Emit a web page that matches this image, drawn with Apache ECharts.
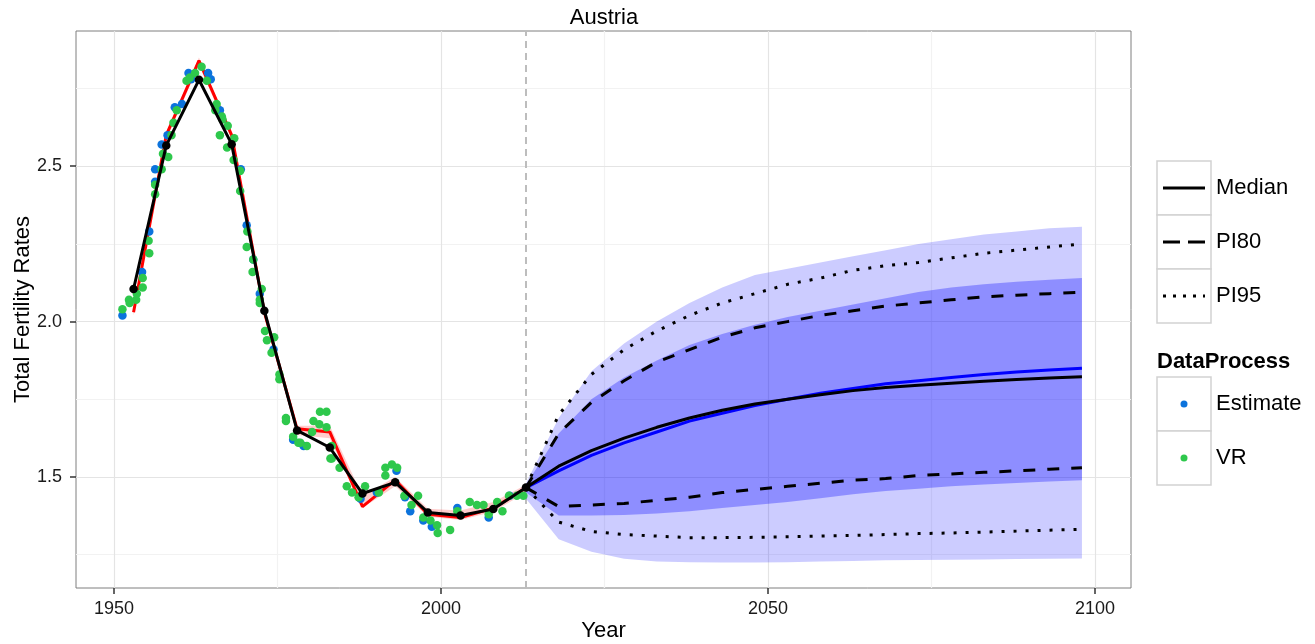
<!DOCTYPE html>
<html>
<head>
<meta charset="utf-8">
<title>Austria – Total Fertility Rates</title>
<script src="https://cdn.jsdelivr.net/npm/echarts@6/dist/echarts.min.js"></script>
<style>
  html, body { margin: 0; padding: 0; background: #ffffff; }
  #chart { width: 1315px; height: 644px; }
</style>
</head>
<body>
<div id="chart"></div>
<script>
// ---- Observed period (five-year periods) ----
const obsYears = [1953, 1958, 1963, 1968, 1973, 1978, 1983, 1988, 1993, 1998, 2003, 2008, 2013];
const obsMedian = [2.105, 2.567, 2.778, 2.571, 2.035, 1.650, 1.595, 1.447, 1.483, 1.386, 1.376, 1.397, 1.466];
const obsRed = [2.030, 2.600, 2.840, 2.600, 2.030, 1.655, 1.645, 1.405, 1.490, 1.380, 1.370, 1.400, 1.465];
const obsRedLow = [2.020, 2.585, 2.825, 2.585, 2.020, 1.635, 1.625, 1.400, 1.470, 1.372, 1.362, 1.388, 1.450];
const obsRedHigh = [2.045, 2.610, 2.850, 2.610, 2.045, 1.665, 1.665, 1.440, 1.500, 1.398, 1.392, 1.420, 1.475];

// ---- Data points by source: [year, TFR] ----
const estimatePts = [
  [1951.3, 2.02], [1954.3, 2.16], [1955.4, 2.29], [1956.3, 2.49], [1956.3, 2.45], [1957.3, 2.57],
  [1958.2, 2.60], [1959.3, 2.69], [1960.4, 2.70], [1961.4, 2.80], [1961.8, 2.78], [1964.4, 2.80],
  [1964.8, 2.78], [1966.2, 2.68], [1969.4, 2.49], [1970.3, 2.31], [1971.3, 2.20], [1972.3, 2.09],
  [1974.4, 1.91], [1977.4, 1.62], [1979.0, 1.60], [1987.7, 1.43], [1990.2, 1.45], [1993.2, 1.52],
  [1994.5, 1.435], [1995.3, 1.39], [1997.3, 1.36], [1998.6, 1.34], [2002.5, 1.40], [2007.3, 1.37],
  [2010.5, 1.44]
];
const vrPts = [
  [1951.3, 2.04], [1952.3, 2.07], [1952.4, 2.06], [1953.4, 2.07], [1953.5, 2.09], [1954.4, 2.14],
  [1954.4, 2.11], [1955.3, 2.26], [1955.4, 2.22], [1956.3, 2.41], [1956.3, 2.44], [1957.5, 2.54],
  [1958.3, 2.53], [1957.3, 2.49], [1958.8, 2.60], [1959.1, 2.64], [1959.6, 2.68], [1961.1, 2.775],
  [1961.6, 2.785], [1962.4, 2.80], [1963.4, 2.82], [1964.2, 2.775], [1965.5, 2.68], [1965.7, 2.70],
  [1966.5, 2.66], [1966.6, 2.65], [1967.4, 2.63], [1966.2, 2.60], [1968.4, 2.59], [1967.3, 2.56],
  [1968.3, 2.52], [1969.3, 2.485], [1969.3, 2.42], [1970.4, 2.29], [1970.3, 2.24], [1971.3, 2.20],
  [1971.2, 2.16], [1972.6, 2.105], [1972.3, 2.07], [1972.3, 2.06], [1973.1, 1.97], [1973.4, 1.94],
  [1974.5, 1.95], [1974.1, 1.90], [1975.3, 1.83], [1975.3, 1.815], [1976.3, 1.69], [1976.3, 1.68],
  [1977.4, 1.63], [1978.2, 1.61], [1978.5, 1.61], [1979.5, 1.60], [1980.3, 1.645], [1980.5, 1.68],
  [1981.5, 1.71], [1982.5, 1.71], [1981.4, 1.67], [1982.5, 1.66], [1983.3, 1.60], [1983.1, 1.56],
  [1983.3, 1.56], [1984.5, 1.53], [1985.6, 1.47], [1986.4, 1.45], [1987.4, 1.435], [1988.4, 1.47],
  [1990.5, 1.45], [1991.5, 1.53], [1992.5, 1.54], [1993.3, 1.53], [1991.5, 1.505], [1994.4, 1.44],
  [1995.5, 1.41], [1996.5, 1.44], [1997.3, 1.37], [1998.4, 1.36], [1999.4, 1.345], [1999.5, 1.32],
  [2001.4, 1.33], [2002.5, 1.39], [2004.4, 1.42], [2005.5, 1.41], [2006.5, 1.41], [2007.3, 1.38],
  [2008.6, 1.42], [2009.4, 1.39], [2010.4, 1.44], [2011.6, 1.44], [2012.6, 1.44]
];

// ---- Projection (five-year steps) ----
const projYears = [2013, 2018, 2023, 2028, 2033, 2038, 2043, 2048, 2053, 2058, 2063, 2068, 2073, 2078, 2083, 2088, 2093, 2098];
const projMedian = [1.466, 1.535, 1.585, 1.625, 1.660, 1.690, 1.715, 1.735, 1.750, 1.765, 1.778, 1.788, 1.795, 1.802, 1.808, 1.814, 1.819, 1.823];
const projMean = [1.466, 1.520, 1.570, 1.610, 1.645, 1.680, 1.705, 1.730, 1.750, 1.770, 1.785, 1.800, 1.810, 1.820, 1.830, 1.838, 1.844, 1.850];
const pi80Upper = [1.466, 1.640, 1.740, 1.810, 1.870, 1.910, 1.950, 1.980, 2.000, 2.020, 2.035, 2.050, 2.060, 2.070, 2.080, 2.085, 2.090, 2.095];
const pi80Lower = [1.466, 1.405, 1.410, 1.415, 1.425, 1.435, 1.450, 1.460, 1.470, 1.480, 1.490, 1.495, 1.505, 1.510, 1.515, 1.520, 1.525, 1.530];
const pi95Upper = [1.466, 1.700, 1.830, 1.910, 1.970, 2.020, 2.060, 2.090, 2.120, 2.140, 2.165, 2.180, 2.190, 2.205, 2.220, 2.230, 2.240, 2.250];
const pi95Lower = [1.466, 1.355, 1.325, 1.315, 1.310, 1.305, 1.305, 1.306, 1.308, 1.310, 1.312, 1.315, 1.318, 1.320, 1.323, 1.326, 1.329, 1.332];
// shaded intervals
const band95Upper = [1.480, 1.690, 1.840, 1.930, 2.000, 2.060, 2.110, 2.150, 2.170, 2.190, 2.210, 2.230, 2.250, 2.265, 2.280, 2.290, 2.300, 2.305];
const band95Lower = [1.430, 1.300, 1.260, 1.237, 1.228, 1.226, 1.225, 1.225, 1.226, 1.228, 1.230, 1.232, 1.233, 1.234, 1.235, 1.236, 1.237, 1.238];
const band80Upper = [1.475, 1.640, 1.750, 1.820, 1.875, 1.925, 1.960, 1.990, 2.015, 2.035, 2.055, 2.075, 2.095, 2.110, 2.120, 2.128, 2.135, 2.140];
const band80Lower = [1.450, 1.376, 1.376, 1.378, 1.383, 1.390, 1.400, 1.410, 1.420, 1.432, 1.445, 1.455, 1.462, 1.470, 1.476, 1.481, 1.486, 1.490];

// ---- Axis ticks ----
const xTicks = [1950, 2000, 2050, 2100];
const xMinor = [1975, 2025, 2075];
const yTicks = [1.5, 2.0, 2.5];
const yMinor = [1.25, 1.75, 2.25, 2.75];
const presentYear = 2013;

const FONT = 'Liberation Sans, Arial, Helvetica, sans-serif';
const pairs = (xs, ys) => xs.map((x, i) => [x, ys[i]]);

// filled interval between two curves, projected through the axes
function bandSeries(xs, lo, hi, color, z) {
  return {
    type: 'custom', silent: true, z: z, clip: true,
    data: [[xs[0], lo[0]]],
    renderItem: function (params, api) {
      const top = xs.map((x, i) => api.coord([x, hi[i]]));
      const bottom = xs.map((x, i) => api.coord([x, lo[i]])).reverse();
      return { type: 'polygon', shape: { points: top.concat(bottom) }, style: { fill: color } };
    }
  };
}
function pathSeries(xs, ys, style, z) {
  return { type: 'line', data: pairs(xs, ys), symbol: 'none', silent: true, z: z,
    lineStyle: Object.assign({ color: '#000', width: 3, cap: 'butt' }, style) };
}

const gridLines = []
  .concat(xMinor.map(v => ({ xAxis: v, lineStyle: { color: '#f2f2f2', width: 1.2, type: 'solid' } })))
  .concat(yMinor.map(v => ({ yAxis: v, lineStyle: { color: '#f2f2f2', width: 1.2, type: 'solid' } })))
  .concat(xTicks.map(v => ({ xAxis: v, lineStyle: { color: '#e4e4e4', width: 1.2, type: 'solid' } })))
  .concat(yTicks.map(v => ({ yAxis: v, lineStyle: { color: '#e4e4e4', width: 1.2, type: 'solid' } })))
  .concat([{ xAxis: presentYear, lineStyle: { color: '#bdbdbd', width: 2, type: [7, 5] } }]);

const series = [
  { type: 'line', data: [], symbol: 'none', silent: true, z: 1,
    markLine: { silent: true, z: 1, symbol: ['none', 'none'], label: { show: false }, animation: false, data: gridLines } },
  bandSeries(projYears, band95Lower, band95Upper, 'rgba(0,0,255,0.2)', 2),
  bandSeries(projYears, band80Lower, band80Upper, 'rgba(0,0,255,0.3)', 2),
  bandSeries(obsYears, obsRedLow, obsRedHigh, 'rgba(255,0,0,0.2)', 3),
  pathSeries(obsYears, obsRed, { color: '#ff0000', width: 3 }, 3),
  { type: 'scatter', data: estimatePts, symbolSize: 8.5, silent: true, z: 4,
    itemStyle: { color: '#0c73dc', opacity: 1 } },
  { type: 'scatter', data: vrPts, symbolSize: 8.5, silent: true, z: 4,
    itemStyle: { color: '#2ec84c', opacity: 1 } },
  { type: 'line', data: pairs(obsYears, obsMedian), symbol: 'circle', symbolSize: 8.5, showSymbol: true,
    silent: true, z: 5, itemStyle: { color: '#000' }, lineStyle: { color: '#000', width: 3 } },
  pathSeries(projYears, projMean, { color: '#0000ff', width: 3 }, 5),
  pathSeries(projYears, projMedian, { color: '#000', width: 3 }, 6),
  pathSeries(projYears, pi80Upper, { type: [12, 12] }, 6),
  pathSeries(projYears, pi80Lower, { type: [12, 12] }, 6),
  pathSeries(projYears, pi95Upper, { type: [3, 9] }, 6),
  pathSeries(projYears, pi95Lower, { type: [3, 9] }, 6)
];

// ---- Legend (drawn as boxed keys) ----
const LX = 1157, KW = 54, TX = 1216;
function keyBox(y) {
  return { type: 'rect', shape: { x: LX, y: y, width: KW, height: 54 },
    style: { fill: '#ffffff', stroke: '#d2d2d2', lineWidth: 1.5 } };
}
function legendText(t, y, bold) {
  return { type: 'text', x: bold ? LX : TX, y: y,
    style: { text: t, fill: '#000', font: (bold ? 'bold ' : '') + '22px ' + FONT, textVerticalAlign: 'middle' } };
}
const legend = [
  keyBox(161), keyBox(215), keyBox(269),
  { type: 'line', shape: { x1: LX + 6, y1: 188, x2: LX + KW - 6, y2: 188 }, style: { stroke: '#000', lineWidth: 3 } },
  { type: 'line', shape: { x1: LX + 6, y1: 242, x2: LX + KW - 6, y2: 242 }, style: { stroke: '#000', lineWidth: 3, lineDash: [17, 8] } },
  { type: 'line', shape: { x1: LX + 6, y1: 296, x2: LX + KW - 6, y2: 296 }, style: { stroke: '#000', lineWidth: 3, lineDash: [3, 7] } },
  legendText('Median', 188), legendText('PI80', 242), legendText('PI95', 296),
  legendText('DataProcess', 362, true),
  keyBox(377), keyBox(431),
  { type: 'circle', shape: { cx: LX + KW / 2, cy: 404, r: 3.5 }, style: { fill: '#0c73dc' } },
  { type: 'circle', shape: { cx: LX + KW / 2, cy: 458, r: 3.5 }, style: { fill: '#2ec84c' } },
  legendText('Estimate', 404), legendText('VR', 458),
  { type: 'text', x: 604, y: 18,
    style: { text: 'Austria', fill: '#000', font: '22px ' + FONT, textAlign: 'center', textVerticalAlign: 'middle' } }
];

const chart = echarts.init(document.getElementById('chart'), null, { renderer: 'canvas' });
chart.setOption({
  animation: false,
  backgroundColor: '#ffffff',
  textStyle: { fontFamily: FONT },
  grid: { left: 76, top: 31, width: 1055, height: 557, show: true, borderColor: '#7f7f7f', borderWidth: 1,
    backgroundColor: '#ffffff', containLabel: false, outerBoundsMode: 'none', z: 0 },
  xAxis: {
    type: 'value', min: 1944.2, max: 2105.5,
    axisLine: { show: false }, splitLine: { show: false },
    axisTick: { show: true, customValues: xTicks, length: 6, lineStyle: { color: '#333', width: 1.5 } },
    axisLabel: { customValues: xTicks, fontSize: 18, color: '#1a1a1a', margin: 12, fontFamily: FONT,
      formatter: v => String(v) },
    name: 'Year', nameLocation: 'middle', nameGap: 32, nameMoveOverlap: false,
    nameTextStyle: { fontSize: 22, color: '#000', fontFamily: FONT }
  },
  yAxis: {
    type: 'value', min: 1.143, max: 2.935,
    axisLine: { show: false }, splitLine: { show: false },
    axisTick: { show: true, customValues: yTicks, length: 6, lineStyle: { color: '#333', width: 1.5 } },
    axisLabel: { customValues: yTicks, fontSize: 18, color: '#1a1a1a', margin: 14, fontFamily: FONT,
      formatter: v => v.toFixed(1) },
    name: 'Total Fertility Rates', nameLocation: 'middle', nameGap: 42, nameMoveOverlap: false,
    nameTextStyle: { fontSize: 22, color: '#000', fontFamily: FONT }
  },
  series: series,
  graphic: legend
});
</script>
</body>
</html>
